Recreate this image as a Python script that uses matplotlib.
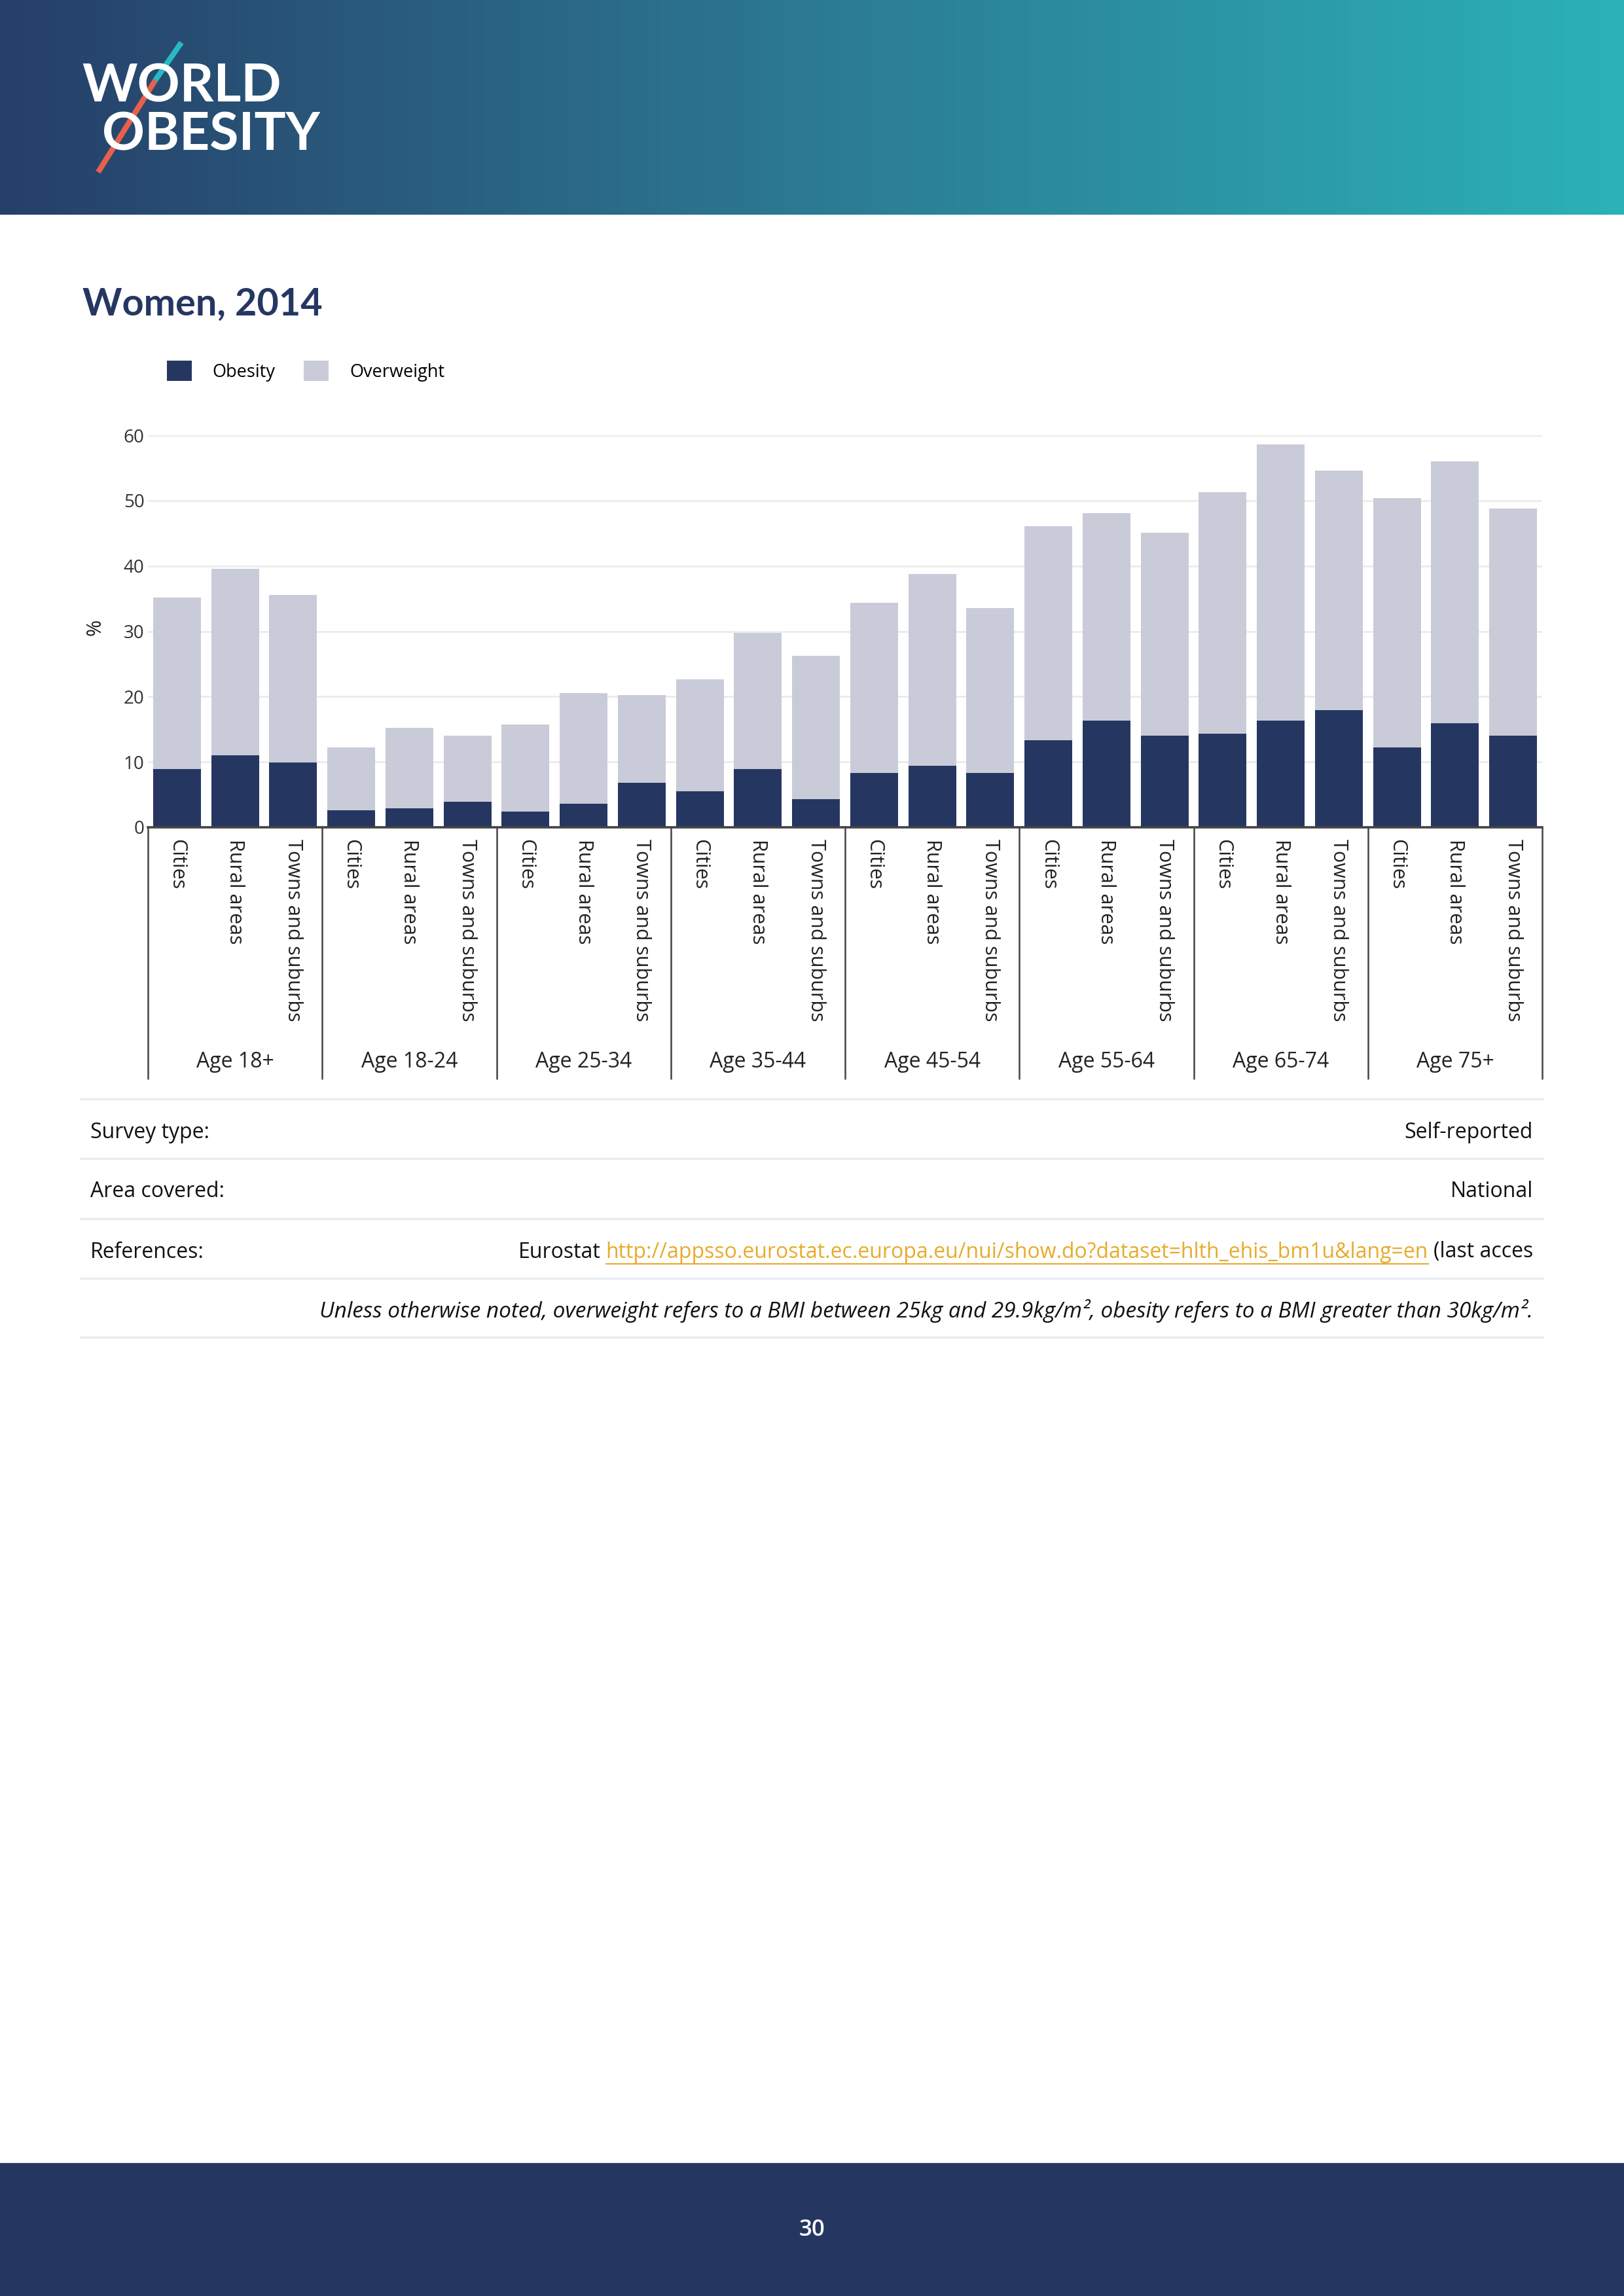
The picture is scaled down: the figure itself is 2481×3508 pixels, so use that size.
import numpy as np
import matplotlib.pyplot as plt
from matplotlib.lines import Line2D
from matplotlib.patches import Rectangle
from matplotlib.transforms import blended_transform_factory

W, H = 2481, 3508
DPI = 100

age_groups = ["Age 18+", "Age 18-24", "Age 25-34", "Age 35-44",
              "Age 45-54", "Age 55-64", "Age 65-74", "Age 75+"]
areas = ["Cities", "Rural areas", "Towns and suburbs"]

# one value per (age group, area), in the order above
obesity = [8.9, 11.0, 9.9, 2.6, 2.9, 3.9, 2.4, 3.6, 6.8, 5.5, 8.9, 4.3,
           8.3, 9.4, 8.3, 13.3, 16.3, 14.0, 14.3, 16.3, 17.9, 12.2, 15.9, 14.0]
overweight = [26.3, 28.6, 25.7, 9.6, 12.3, 10.1, 13.3, 16.9, 13.4, 17.1, 20.8, 21.9,
              26.1, 29.4, 25.3, 32.8, 31.8, 31.1, 37.0, 42.3, 36.7, 38.2, 40.1, 34.8]
y_ticks = [0, 10, 20, 30, 40, 50, 60]

NAVY = '#253761'
LIGHT = '#c9cbd8'
GRID = '#ebebeb'
RULE = '#e8edf2'
LINK = '#e8ab2a'
BODY = ['Open Sans', 'DejaVu Sans']
HEAD = ['Lato', 'DejaVu Sans']

plt.rcParams['font.family'] = BODY


def fx(px):
    return px / W


def fy(py):
    return 1 - py / H


fig = plt.figure(figsize=(W / DPI, H / DPI), dpi=DPI)

# header band with gradient
hdr = fig.add_axes([0, fy(328), 1, 328 / H])
c0 = np.array([38, 63, 105]) / 255
c1 = np.array([44, 122, 147]) / 255
c2 = np.array([43, 178, 183]) / 255
t = np.linspace(0, 1, 600)[:, None]
grad = np.where(t < 0.5, c0 + (c1 - c0) * (t / 0.5), c1 + (c2 - c1) * ((t - 0.5) / 0.5))
hdr.imshow(grad[None, :, :], aspect='auto', extent=[0, 1, 0, 1])
hdr.set_xlim(0, 1)
hdr.set_ylim(0, 1)
hdr.axis('off')

fig.text(fx(125), fy(155), "WORLD", color='white', fontsize=58, weight='bold', va='baseline',
         family=HEAD)
fig.text(fx(156), fy(230), "OBESITY", color='white', fontsize=58, weight='bold', va='baseline',
         family=HEAD)
fig.add_artist(Line2D([fx(277), fx(237)], [fy(65), fy(123)], color='#2ab8c2', lw=6,
                      transform=fig.transFigure, solid_capstyle='butt'))
fig.add_artist(Line2D([fx(237), fx(150)], [fy(123), fy(263)], color='#e8604c', lw=6,
                      transform=fig.transFigure, solid_capstyle='butt'))

# title
fig.text(fx(126), fy(482), "Women, 2014", fontsize=41.5, weight='bold', color=NAVY,
         va='baseline', family=HEAD)

# chart
ax = fig.add_axes([fx(226), fy(1264), (2356 - 226) / W, (1264 - 665) / H])
x = np.arange(len(obesity))
b1 = ax.bar(x, obesity, width=0.82, color=NAVY, zorder=3, label='Obesity')
b2 = ax.bar(x, overweight, bottom=obesity, width=0.82, color=LIGHT, zorder=3, label='Overweight')
ax.set_xlim(-0.5, len(x) - 0.5)
ax.set_ylim(0, 60)
ax.set_yticks(y_ticks)
ax.set_xticks([])
ax.grid(axis='y', color=GRID, lw=2)
ax.set_axisbelow(True)
for s in ['top', 'right', 'left']:
    ax.spines[s].set_visible(False)
ax.spines['bottom'].set_color('#444444')
ax.spines['bottom'].set_linewidth(2.6)
ax.spines['bottom'].set_zorder(4)
ax.tick_params(axis='y', length=0, labelsize=20, colors='#333333', pad=4)
ax.text(-0.0376, 0.51, '%', transform=ax.transAxes, rotation=90, ha='center', va='center',
        fontsize=22, color='#222222')

trans = blended_transform_factory(ax.transData, ax.transAxes)
for i in range(len(x)):
    ax.text(i, -0.03, areas[i % 3], transform=trans, rotation=270, ha='center', va='top',
            fontsize=22, color='#222222')
seps = np.arange(len(age_groups) + 1) * 3 - 0.5
ax.vlines(seps, -0.643, 0, transform=trans, colors='#444444', lw=1.8, clip_on=False)
for k, g in enumerate(age_groups):
    ax.text(3 * k + 1, -0.598, g, transform=trans, ha='center', va='center',
            fontsize=23, color='#222222')

ax.legend(handles=[b1, b2], loc='center left', bbox_to_anchor=(fx(255), fy(567)),
          bbox_transform=fig.transFigure, ncol=2, frameon=False, fontsize=19.5,
          handlelength=1.4, handleheight=1.4, handletextpad=1.18, columnspacing=1.6,
          borderpad=0, borderaxespad=0)

# table
for yy in [1679, 1770, 1862, 1953, 2043]:
    fig.add_artist(Line2D([fx(123), fx(2357)], [fy(yy), fy(yy)], color=RULE, lw=2.4,
                          transform=fig.transFigure))

TS = 23
fig.text(fx(138), fy(1730), "Survey type:", fontsize=TS, va='center', color='#111111')
fig.text(fx(2342), fy(1730), "Self-reported", fontsize=TS, va='center', ha='right', color='#111111')
fig.text(fx(138), fy(1820), "Area covered:", fontsize=TS, va='center', color='#111111')
fig.text(fx(2342), fy(1820), "National", fontsize=TS, va='center', ha='right', color='#111111')
fig.text(fx(138), fy(1913), "References:", fontsize=TS, va='center', color='#111111')

renderer = fig.canvas.get_renderer()
t_end = fig.text(fx(2342), fy(1913), "(last acces", fontsize=TS, va='center', ha='right',
                 color='#111111')
bb = t_end.get_window_extent(renderer)
link_right = bb.x0 - 8
t_link = fig.text(link_right / W, fy(1913), "http://appsso.eurostat.ec.europa.eu/nui/show.do?dataset=hlth_ehis_bm1u&lang=en",
                  fontsize=TS, va='center', ha='right', color=LINK)
bl = t_link.get_window_extent(renderer)
fig.add_artist(Line2D([bl.x0 / W, bl.x1 / W], [fy(1931), fy(1931)], color=LINK, lw=1.5,
                      transform=fig.transFigure))
fig.text((bl.x0 - 8) / W, fy(1913), "Eurostat", fontsize=TS, va='center', ha='right',
         color='#111111')

fig.text(fx(2342), fy(2003),
         "Unless otherwise noted, overweight refers to a BMI between 25kg and 29.9kg/m², "
         "obesity refers to a BMI greater than 30kg/m².",
         fontsize=24, va='center', ha='right', style='italic', color='#111111')

# footer
fig.add_artist(Rectangle((0, 0), 1, (H - 3305) / H, transform=fig.transFigure,
                         color=NAVY, zorder=0))
fig.text(0.5, fy(3407), "30", color='white', fontsize=25, weight='semibold', ha='center',
         va='center')

fig.savefig('out.png', dpi=DPI)
